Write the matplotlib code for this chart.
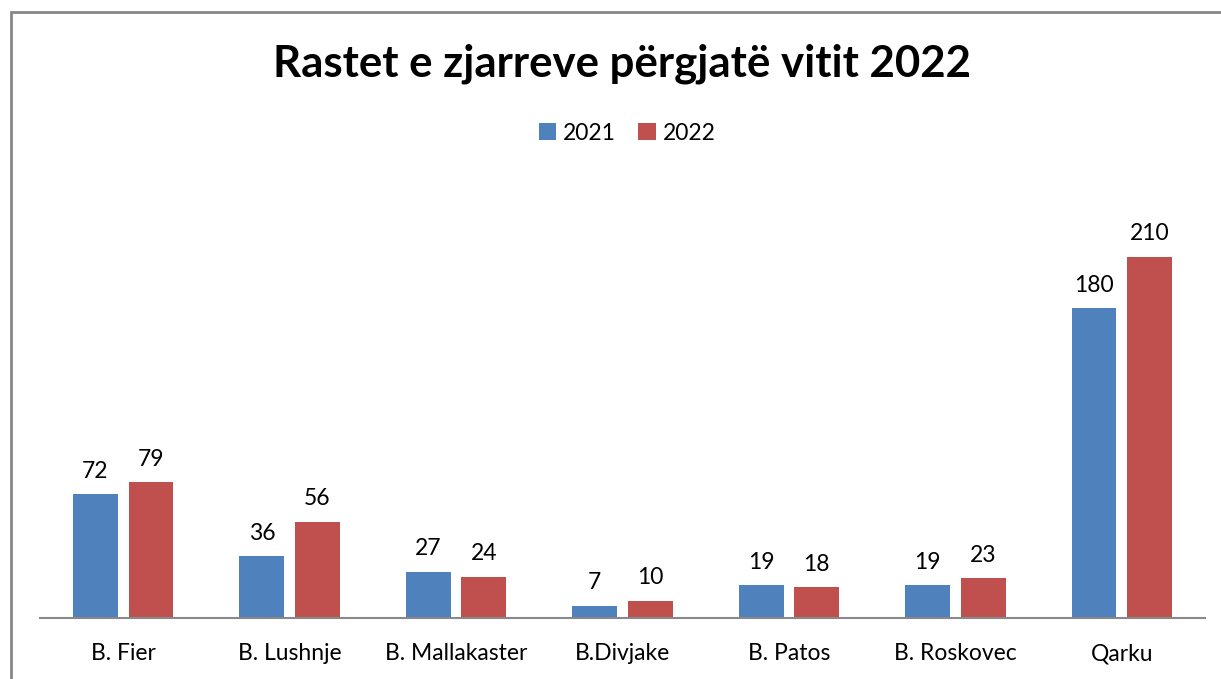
import matplotlib
matplotlib.use("Agg")
import matplotlib.pyplot as plt
import numpy as np
from matplotlib.patches import Rectangle

categories = ["B. Fier", "B. Lushnje", "B. Mallakaster", "B.Divjake", "B. Patos", "B. Roskovec", "Qarku"]
series_names = ["2021", "2022"]
values_2021 = [72, 36, 27, 7, 19, 19, 180]
values_2022 = [79, 56, 24, 10, 18, 23, 210]
title = "Rastet e zjarreve përgjatë vitit 2022"

plt.rcParams['font.family'] = ['Lato', 'DejaVu Sans']

W, H = 1221, 679
fig = plt.figure(figsize=(W/100, H/100), dpi=100)
fig.patch.set_facecolor("white")

# outer frame (partially cropped)
fig.patches.append(Rectangle((11/W, -0.1), 1.2, (H-12)/H + 0.1, transform=fig.transFigure,
                             fill=False, edgecolor="#878787", linewidth=2))

ax_left, ax_right = 40/W, 1205/W
ax_bottom = (H-618)/H
ax_top = (H-188)/H
ax = fig.add_axes([ax_left, ax_bottom, ax_right-ax_left, ax_top-ax_bottom])

x = np.arange(len(categories))
w = 0.27
off = 0.167
c1, c2 = "#4F81BD", "#C0504D"
b1 = ax.bar(x-off, values_2021, w, color=c1, label=series_names[0])
b2 = ax.bar(x+off, values_2022, w, color=c2, label=series_names[1])
for bars, vals in ((b1, values_2021), (b2, values_2022)):
    for r, v in zip(bars, vals):
        ax.annotate(str(v), (r.get_x()+r.get_width()/2, r.get_height()), xytext=(0, 9),
                    textcoords="offset points", ha="center", va="bottom", fontsize=16.5)

ax.set_xlim(-0.5, len(categories)-0.5)
ax.set_ylim(0, 250)
ax.set_xticks(x)
ax.set_xticklabels(categories, fontsize=16.5)
ax.tick_params(axis="x", length=0, pad=18)
ax.set_yticks([])
for s in ("top", "right", "left"):
    ax.spines[s].set_visible(False)
ax.spines["bottom"].set_color("#898989")
ax.spines["bottom"].set_linewidth(1.5)

fig.text(622/W, 1-64/H, title, ha="center", va="center", fontsize=31.5, fontweight="bold")
fig.legend(handles=[b1, b2], labels=series_names, loc="center", bbox_to_anchor=(627/W, 1-133/H),
           ncol=2, frameon=False, fontsize=16.5, handlelength=0.75, handleheight=0.75,
           handletextpad=0.3, columnspacing=1.0)

fig.savefig("out.png", dpi=100)
